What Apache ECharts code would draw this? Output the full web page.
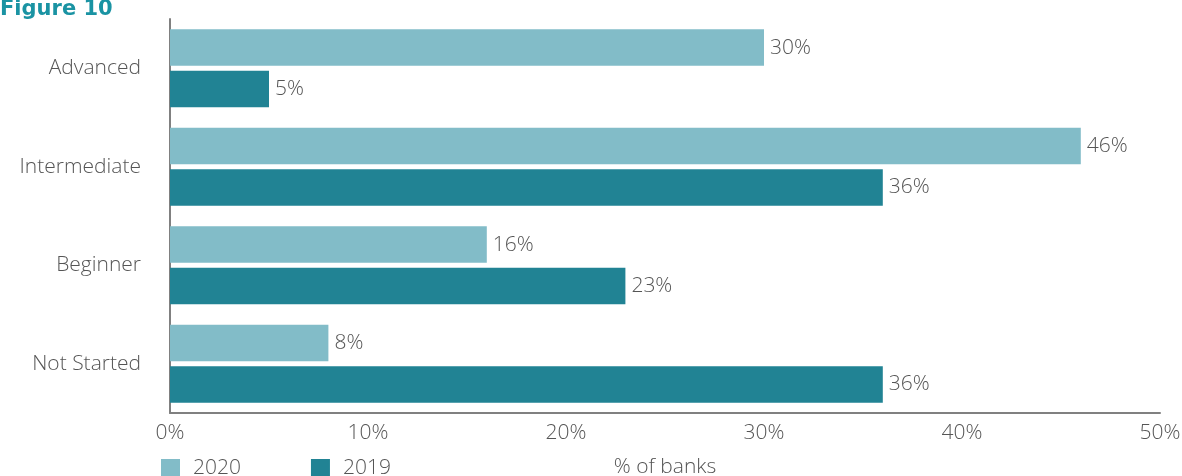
<!DOCTYPE html>
<html>
<head>
<meta charset="utf-8">
<script src="https://cdn.jsdelivr.net/npm/echarts@6/dist/echarts.min.js"></script>
<style>
  html, body { margin: 0; padding: 0; background: #fff; }
  #chart { width: 1182px; height: 476px; }
</style>
</head>
<body>
<div id="chart"></div>
<script>
// Stages of progress, top to bottom
const categories = ['Advanced', 'Intermediate', 'Beginner', 'Not Started'];
// Share of banks at each stage (%)
const values2020 = [30, 46, 16, 8];
const values2019 = [5, 36, 23, 36];
const seriesNames = ['2020', '2019'];
const xTicks = [0, 10, 20, 30, 40, 50];

const FONT = '"Open Sans", sans-serif';
const TEXT = '#555555';
const LIGHT = '#82bcc8';
const DARK = '#218394';

const chart = echarts.init(document.getElementById('chart'));

const labelStyle = {
  show: true,
  position: 'right',
  distance: 6,
  formatter: p => p.value + '%',
  color: TEXT,
  fontFamily: FONT,
  fontWeight: 300,
  fontSize: 21
};

const textBase = { color: TEXT, fontFamily: FONT, fontWeight: 300, fontSize: 21 };

chart.setOption({
  animation: false,
  title: {
    text: 'Figure 10',
    left: 0,
    top: -1,
    padding: 0,
    textStyle: { color: '#1a93a3', fontFamily: '"DejaVu Sans", sans-serif', fontWeight: 'bold', fontSize: 21 }
  },
  legend: {
    data: seriesNames,
    left: 161,
    top: 458,
    padding: 0,
    icon: 'rect',
    itemWidth: 19,
    itemHeight: 19,
    itemGap: 70,
    textStyle: Object.assign({}, textBase, { padding: [0, 0, 0, 8] })
  },
  grid: { left: 170, right: 22, top: 19, bottom: 63, containLabel: false, outerBoundsMode: 'none' },
  xAxis: {
    type: 'value',
    min: xTicks[0],
    max: xTicks[xTicks.length - 1],
    interval: 10,
    name: '% of banks',
    nameLocation: 'middle',
    nameGap: 44,
    nameTextStyle: textBase,
    axisLine: { show: true, lineStyle: { color: '#808080', width: 2 } },
    axisTick: { show: false },
    splitLine: { show: false },
    axisLabel: Object.assign({}, textBase, { margin: 10, formatter: v => v + '%' })
  },
  yAxis: {
    type: 'category',
    data: categories,
    inverse: true,
    axisLine: { show: true, lineStyle: { color: '#808080', width: 2 } },
    axisTick: { show: false },
    axisLabel: Object.assign({}, textBase, { margin: 29 })
  },
  series: [
    {
      name: seriesNames[0],
      type: 'bar',
      data: values2020,
      itemStyle: { color: LIGHT },
      barGap: '14%',
      barCategoryGap: '21%',
      label: labelStyle
    },
    {
      name: seriesNames[1],
      type: 'bar',
      data: values2019,
      itemStyle: { color: DARK },
      barGap: '14%',
      barCategoryGap: '21%',
      label: labelStyle
    }
  ]
});
</script>
</body>
</html>
